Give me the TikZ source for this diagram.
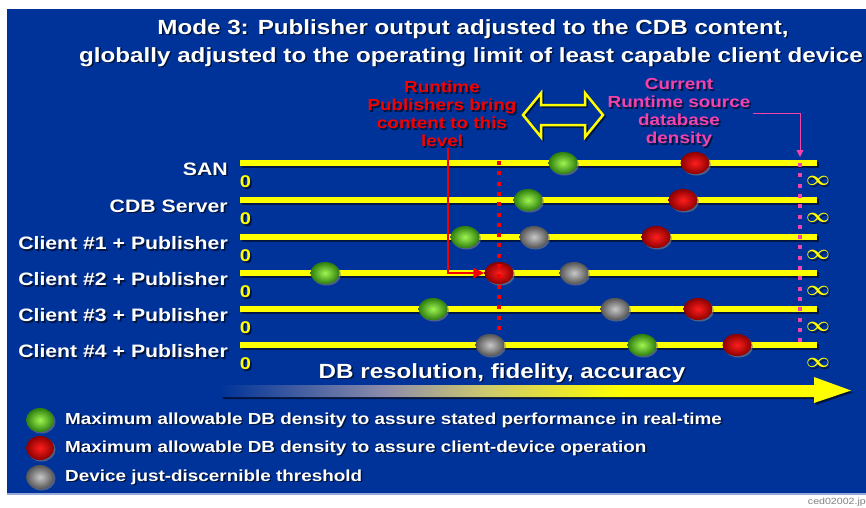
\documentclass[tikz,border=0pt]{standalone}
\usepackage{fontspec}
\setmainfont{Liberation Sans}[FakeStretch=1.18]
\usetikzlibrary{shapes.geometric,shadows,arrows.meta}
\definecolor{bgblue}{RGB}{0,51,153}
\definecolor{ylw}{RGB}{255,255,0}
\definecolor{pinkc}{RGB}{245,65,170}
\definecolor{redc}{RGB}{245,0,0}
\definecolor{midgray}{RGB}{140,140,170}
\definecolor{khaki}{RGB}{205,200,110}
\pgfdeclarehorizontalshading{dbshade}{100bp}{color(0bp)=(bgblue); color(25bp)=(bgblue); color(38bp)=(midgray); color(46bp)=(khaki); color(57bp)=(ylw); color(100bp)=(ylw)}
\newcommand\shnode[4]{%
  \node[#1,text=black,opacity=0.6] (#2-s) at ([shift={(1.6,1.6)}]#3) {#4};
  \node[#1] (#2) at (#3) {#4};}
\tikzset{
  ttl/.style={text=white,font=\bfseries\fontsize{20.5}{22}\selectfont,inner sep=0pt},
  lbl/.style={text=white,font=\bfseries\fontsize{18}{20}\selectfont,anchor=east,inner sep=0pt},
  zero/.style={text=ylw,font=\bfseries\fontsize{17}{18}\selectfont,inner sep=0pt},
  inf/.style={text=ylw,font=\fontsize{21}{21}\selectfont\boldmath,inner sep=0pt},
  note/.style={font=\bfseries\fontsize{16}{18}\selectfont,align=center,inner sep=2pt},
  legtxt/.style={text=white,font=\bfseries\fontsize{16}{18}\selectfont,anchor=west,inner sep=0pt},
  track/.style={ylw,line width=6pt},
  trackshadow/.style={black,opacity=0.55,line width=6pt},
  ball/.style={ellipse,minimum width=29pt,minimum height=22pt,inner sep=0pt,
    drop shadow={shadow xshift=1.5pt,shadow yshift=-1.5pt,opacity=.6}},
  gball/.style={ball,inner color={rgb,255:red,160;green,245;blue,80},outer color={rgb,255:red,45;green,125;blue,15}},
  rball/.style={ball,inner color={rgb,255:red,255;green,30;blue,30},outer color={rgb,255:red,140;green,0;blue,0}},
  kball/.style={ball,inner color={rgb,255:red,200;green,200;blue,200},outer color={rgb,255:red,85;green,85;blue,85}},
  reddots/.style={redc,line width=4pt,dash pattern=on 4pt off 6.3pt},
  pinkdots/.style={pinkc,line width=3.5pt,dash pattern=on 4pt off 6.3pt},
}
\begin{document}
\begin{tikzpicture}[x=1pt,y=-1pt]
\useasboundingbox (0,0) rectangle (866,507);
\fill[white] (0,0) rectangle (866,507);
\fill[bgblue] (7,9) rectangle (866,493);
\draw[color={rgb,255:red,150;green,170;blue,215},line width=2pt] (7,494) -- (866,494);
% title
\shnode{ttl}{title1}{473,29}{Mode 3: Publisher output adjusted to the CDB content,}
\shnode{ttl}{title2}{471,57}{globally adjusted to the operating limit of least capable client device}
% notes
\shnode{note,text=redc}{redtxt}{442,114}{Runtime\\Publishers bring\\content to this\\level}
\shnode{note,text=pinkc}{pinktxt}{679,113}{Current\\Runtime source\\database\\density}
% double arrow
\draw[black,opacity=.55,line width=2.5pt,line join=miter,shift={(1.6,1.6)}]
  (523,115) -- (541,93) -- (541,105) -- (585,105) -- (585,93) -- (603,115) -- (585,137) -- (585,125) -- (541,125) -- (541,137) -- cycle;
\draw[ylw,line width=2.5pt,line join=miter]
  (523,115) -- (541,93) -- (541,105) -- (585,105) -- (585,93) -- (603,115) -- (585,137) -- (585,125) -- (541,125) -- (541,137) -- cycle;
% tracks
\foreach \y in {163,200,237,273,309,345}{
  \draw[trackshadow] (241.5,\y+1.8) -- (818.5,\y+1.8);
  \draw[track] (240,\y) -- (817,\y);
}
% labels, zeros, infinity
\foreach \n/\t/\y in {san/SAN/163,cdb/CDB Server/200,c1/Client \#1 + Publisher/237,c2/Client \#2 + Publisher/273,c3/Client \#3 + Publisher/309,c4/Client \#4 + Publisher/345}{
  \shnode{lbl}{lbl-\n}{228,\y+6}{\t}
  \shnode{zero}{zero-\n}{245.5,\y+19}{0}
  \shnode{inf}{inf-\n}{818,\y+18}{$\infty$}
}
% balls
\node[gball] (san-g) at (563,163) {};
\node[rball] (san-r) at (695,163) {};
\node[gball] (cdb-g) at (528,200) {};
\node[rball] (cdb-r) at (683,200) {};
\node[gball] (c1-g) at (465,237) {};
\node[kball] (c1-k) at (534,237) {};
\node[rball] (c1-r) at (656,237) {};
\node[gball] (c2-g) at (325,273) {};
\node[rball] (c2-r) at (499,273) {};
\node[kball] (c2-k) at (574,273) {};
\node[gball] (c3-g) at (433,309) {};
\node[kball] (c3-k) at (615,309) {};
\node[rball] (c3-r) at (698,309) {};
\node[kball] (c4-k) at (490,345) {};
\node[gball] (c4-g) at (642,345) {};
\node[rball] (c4-r) at (737,345) {};
% dotted level lines
\coordinate (rl-top) at (499,161);
\coordinate (rl-bot) at (499,334);
\draw[reddots] (rl-top) -- (rl-bot);
\coordinate (pl-top) at (800,163);
\coordinate (pl-bot) at (800,345);
\draw[pinkdots] (pl-top) -- (pl-bot);
% red arrow
\coordinate (rstart) at (448,148);
\draw[redc,line width=2pt,-{Triangle[length=11pt,width=10pt]}] (rstart) |- (c2-r.west);
% pink arrow
\coordinate (ptip) at (800,157);
\draw[pinkc,line width=1pt,-{Triangle[length=7pt,width=7pt]}] (pinktxt.east) -| (ptip);
% bottom gradient arrow
\fill[black,opacity=.6,shift={(1.5,2)}] (221,385) -- (814,385) -- (814,377) -- (851,390.5) -- (814,403) -- (814,397) -- (221,397) -- cycle;
\shade[shading=dbshade] (221,385) -- (814,385) -- (814,377) -- (851,390.5) -- (814,403) -- (814,397) -- (221,397) -- cycle;
\shnode{ttl}{axis}{502,373}{DB resolution, fidelity, accuracy}
% legend
\node[gball,minimum width=28pt,minimum height=24pt] (lg-g) at (40,420) {};
\node[rball,minimum width=28pt,minimum height=24pt] (lg-r) at (40,448) {};
\node[kball,minimum width=28pt,minimum height=24pt] (lg-k) at (40,477) {};
\shnode{legtxt}{lt-g}{65,420}{Maximum allowable DB density to assure stated performance in real-time}
\shnode{legtxt}{lt-r}{65,448}{Maximum allowable DB density to assure client-device operation}
\shnode{legtxt}{lt-k}{65,477}{Device just-discernible threshold}
% file tag
\node[text=gray,font=\fontsize{9}{10}\selectfont,anchor=east,inner sep=0pt] (tag) at (866,502) {ced02002.jp};
\end{tikzpicture}
\end{document}
